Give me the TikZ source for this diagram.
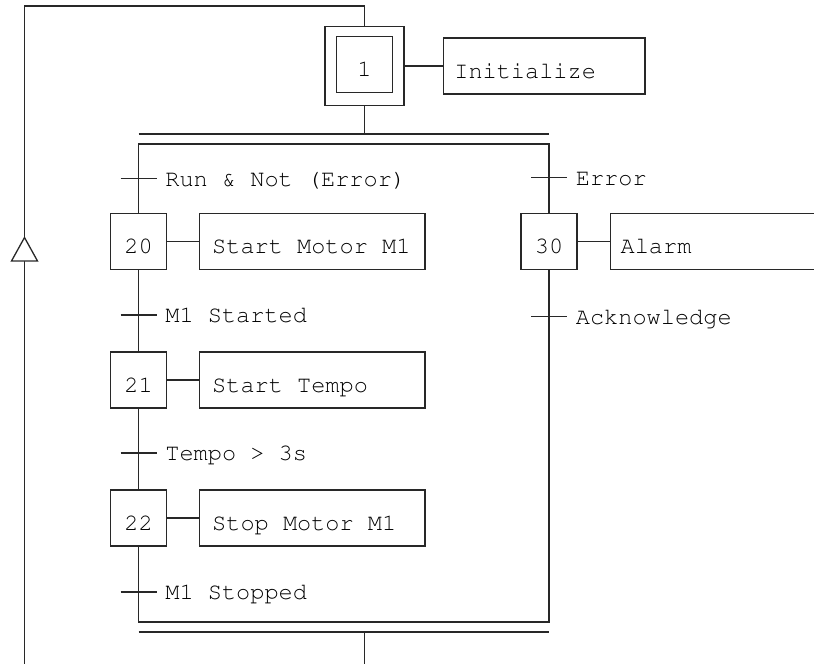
\documentclass[tikz,border=0pt]{standalone}
\usepackage[T1]{fontenc}
\usepackage{courier}
\usepackage{tikz}
\usetikzlibrary{positioning}
\definecolor{sfcink}{RGB}{40,40,40}
\tikzset{
  link/.style={sfcink, line width=0.65pt},
  tick/.style={sfcink, line width=0.65pt},
  stepbox/.style={draw=sfcink, line width=0.65pt, fill=white,
                  minimum size=28pt, inner sep=0pt,
                  text height=12pt, text depth=0pt,
                  font=\ttfamily\fontsize{11.8}{14}\selectfont},
  initframe/.style={draw=sfcink, line width=0.65pt, fill=white,
                    minimum size=39.5pt, inner sep=0pt},
  actionbox/.style={draw=sfcink, line width=0.65pt, fill=white,
                    minimum height=28pt, inner xsep=6.4pt, inner ysep=0pt,
                    text width=100pt, align=left,
                    text height=12pt, text depth=0pt,
                    execute at begin node={\spaceskip=\fontdimen2\font\xspaceskip=\fontdimen2\font},
                    font=\ttfamily\fontsize{11.8}{14}\selectfont},
  cond/.style={anchor=base west, inner sep=0pt, text=black,
               font=\ttfamily\fontsize{11.8}{14}\selectfont},
}
\begin{document}
\begin{tikzpicture}[x=0.5pt,y=-0.5pt]
  \path[use as bounding box] (0,0) rectangle (814,664);
  \clip (0,0) rectangle (814,664);

  % initial step and its action
  \node[initframe] (S1out) at (364.5,66) {};
  \node[stepbox] (S1) at (364.5,64.5) {1};
  \node[actionbox, text width=89.85pt, inner xsep=5.5pt] (A1) at (544.2,66) {Initialize};
  \draw[link] (S1out.east) -- (A1.west);

  % return loop
  \coordinate (loopR) at (364.5,6);
  \coordinate (loopL) at (24.5,6);
  \coordinate (loopB) at (24.5,664);
  \draw[link] (S1out.north) -- (loopR) -- (loopL) -- (loopB);
  \draw[link, fill=white] (24.5,237.5) -- (37.5,261) -- (11.5,261) -- cycle;

  % selection of sequences
  \coordinate (selL) at (138.5,134);
  \coordinate (selR) at (549,134);
  \coordinate (divL) at (138.5,144);
  \coordinate (divR) at (549,144);
  \draw[link] (S1out.south) -- (S1out.south |- selL);
  \draw[link] (selL) -- (selR);

  \node[stepbox] (S20) at (138.5,241.5) {20};
  \node[stepbox] (S21) at (138.5,380) {21};
  \node[stepbox] (S22) at (138.5,518) {22};
  \node[stepbox] (S30) at (549,241.5) {30};

  \node[actionbox] (A20) at (312.2,241.5) {Start Motor M1};
  \node[actionbox] (A21) at (312.2,380) {Start Tempo};
  \node[actionbox] (A22) at (312.2,518) {Stop Motor M1};
  \node[actionbox, anchor=west, text width=105pt, inner xsep=5pt] (A30) at (610,241.5) {Alarm};
  \draw[link] (S20.east) -- (A20.west);
  \draw[link] (S21.east) -- (A21.west);
  \draw[link] (S22.east) -- (A22.west);
  \draw[link] (S30.east) -- (A30.west);

  \coordinate (convL) at (138.5,622);
  \coordinate (convR) at (549,622);
  \coordinate (endL) at (138.5,632);
  \coordinate (endR) at (549,632);
  \coordinate (endM) at (364.5,632);
  \coordinate (outB) at (364.5,664);

  \draw[link] (S20.north) -- (divL) -- (divR) -- (S30.north);
  \draw[link] (S20.south) -- (S21.north);
  \draw[link] (S21.south) -- (S22.north);
  \draw[link] (S22.south) -- (convL) -- (convR) -- (S30.south);
  \draw[link] (endL) -- (endR);
  \draw[link] (endM) -- (outB);

  % transitions
  \coordinate (T1) at (138.5,178.5);
  \coordinate (T20) at (138.5,315);
  \coordinate (T21) at (138.5,453);
  \coordinate (T22) at (138.5,592);
  \coordinate (T2) at (549,177.5);
  \coordinate (T30) at (549,316.5);
  \foreach \t in {T1,T20,T21,T22,T2,T30}
    \draw[tick] (\t) ++(-18,0) -- ++(36,0);

  \node[cond] (C1) at ([shift={(26.5,7.7)}]T1) {Run \& Not (Error)};
  \node[cond] (C20) at ([shift={(26.5,7.7)}]T20) {M1 Started};
  \node[cond] (C21) at ([shift={(26.5,7.7)}]T21) {Tempo > 3s};
  \node[cond] (C22) at ([shift={(26.5,7.7)}]T22) {M1 Stopped};
  \node[cond] (C2) at ([shift={(26.5,7.7)}]T2) {Error};
  \node[cond] (C30) at ([shift={(26.5,7.7)}]T30) {Acknowledge};
\end{tikzpicture}
\end{document}
